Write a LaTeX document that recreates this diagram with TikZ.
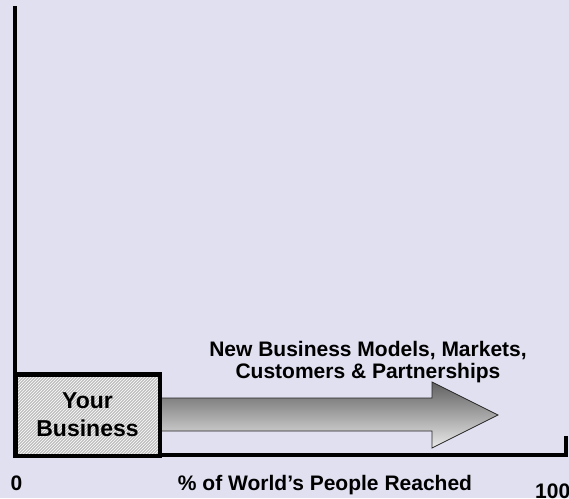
\documentclass[tikz,border=0pt]{standalone}
\usepackage{fontspec}
\setmainfont{Liberation Sans}
\usetikzlibrary{patterns}
\definecolor{bgcol}{RGB}{224,224,240}
\definecolor{shadetop}{RGB}{96,96,96}
\definecolor{shadebot}{RGB}{234,234,234}
\tikzset{
  axisline/.style={line width=4pt, line join=miter, line cap=rect, black},
  bizbox/.style={minimum width=144.5pt, minimum height=81.5pt, inner sep=0pt, align=center, font=\bfseries\fontsize{23}{28}\selectfont},
  hatch/.style={pattern=north east lines, pattern color=white},
  blockarrow/.style={draw=black!85, line width=0.8pt, top color=shadetop, bottom color=shadebot},
  lbl/.style={inner sep=0pt, font=\bfseries\fontsize{21}{22}\selectfont}
}
\begin{document}
\begin{tikzpicture}[x=1pt,y=-1pt]
\fill[bgcol] (0,0) rectangle (569,498);
\useasboundingbox (0,0) rectangle (569,498);
% axes
\coordinate (ytop) at (15,8);
\coordinate (orig) at (15,455);
\coordinate (xend) at (566,455);
\coordinate (tick) at (566,438);
% block arrow
\coordinate (a1) at (150,398);
\coordinate (a2) at (432,398);
\coordinate (a3) at (432,382);
\coordinate (tip) at (498,415);
\coordinate (a5) at (432,448);
\coordinate (a6) at (432,431);
\coordinate (a7) at (150,431);
\draw[blockarrow] (a1) -- (a2) -- (a3) -- (tip) -- (a5) -- (a6) -- (a7) -- cycle;
\draw[axisline] (ytop) -- (orig) -- (xend) -- (tick);
% box: hatched fill, then border and text on top
\node[bizbox, fill=gray!50, postaction={hatch}] (yb) at (87.5,415) {};
\node[bizbox, draw=black, line width=4.5pt] (ybt) at (yb.center) {Your\\Business};
% labels
\node[lbl, align=center] (title) at (368,362.3) {New Business Models, Markets,\\Customers \& Partnerships};
\node[lbl, anchor=base] (zero) at (16.5,490) {0};
\node[lbl, anchor=base] (xlabel) at (325,490) {\% of World’s People Reached};
\node[lbl, anchor=base west] (hundred) at (535,498) {100};
\end{tikzpicture}
\end{document}
